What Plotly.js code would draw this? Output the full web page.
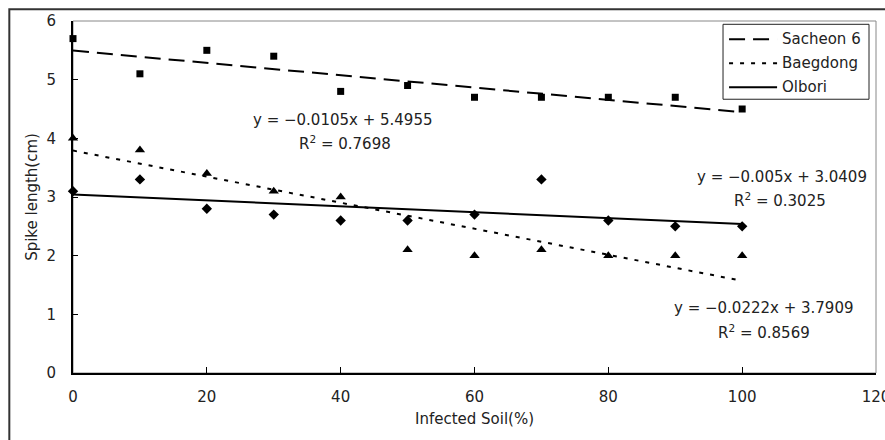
<!DOCTYPE html>
<html><head><meta charset="utf-8">
<script src="https://cdn.plot.ly/plotly-3.0.1.min.js"></script>
<style>html,body{margin:0;padding:0;background:#fff;}#chart{width:885px;height:440px;}</style>
</head><body><div id="chart"></div>
<script>
const xVals = [0, 10, 20, 30, 40, 50, 60, 70, 80, 90, 100];
const sacheon = [5.7, 5.1, 5.5, 5.4, 4.8, 4.9, 4.7, 4.7, 4.7, 4.7, 4.5];
const baegdong = [4.0, 3.8, 3.4, 3.1, 3.0, 2.1, 2.0, 2.1, 2.0, 2.0, 2.0];
const olbori = [3.1, 3.3, 2.8, 2.7, 2.6, 2.6, 2.7, 3.3, 2.6, 2.5, 2.5];
const seriesNames = ['Sacheon 6', 'Baegdong', 'Olbori'];
const slopes = [-0.0105, -0.0222, -0.005];
const intercepts = [5.4955, 3.7909, 3.0409];
const r2 = ['0.7698', '0.8569', '0.3025'];
const eqTexts = ['y = −0.0105x + 5.4955', 'y = −0.0222x + 3.7909', 'y = −0.005x + 3.0409'];
const xTicks = [0, 20, 40, 60, 80, 100, 120];
const yTicks = [0, 1, 2, 3, 4, 5, 6];

const FONT = 'DejaVu Sans, sans-serif';
const TXT = '#222';
const trendX = [0, 100];
const dashes = ['16px,8px', '4px,7px', 'solid'];
const symbols = ['square', 'triangle-up', 'diamond'];
const msizes = [7, 9, 8];
const data = [sacheon, baegdong, olbori];

const traces = [];
for (let i = 0; i < 3; i++) {
  traces.push({
    x: xVals, y: data[i], mode: 'markers', type: 'scatter', showlegend: false, cliponaxis: false,
    marker: {symbol: symbols[i], size: msizes[i], color: '#000'}, hoverinfo: 'skip'
  });
}
for (let i = 0; i < 3; i++) {
  traces.push({
    x: trendX, y: trendX.map(v => slopes[i] * v + intercepts[i]),
    mode: 'lines', type: 'scatter', name: seriesNames[i], showlegend: false,
    line: {color: '#000', width: 2, dash: dashes[i]}
  });
}

const pos = [
  [[40.4, 4.31], [40.7, 3.92]],
  [[103.3, 1.107], [103.3, 0.698]],
  [[105.97, 3.338], [105.68, 2.946]]
];
const annotations = [];
for (let i = 0; i < 3; i++) {
  annotations.push({x: pos[i][0][0], y: pos[i][0][1], xref: 'x', yref: 'y', text: eqTexts[i], showarrow: false, font: {family: FONT, size: 15, color: TXT}});
  annotations.push({x: pos[i][1][0], y: pos[i][1][1], xref: 'x', yref: 'y', text: 'R<sup>2</sup> = ' + r2[i], showarrow: false, font: {family: FONT, size: 15, color: TXT}});
}

// custom legend (paper coordinates)
const legY = [0.9481, 0.8800, 0.8118];
const shapes = [
  {type: 'rect', xref: 'paper', yref: 'paper', x0: 0, x1: 1, y0: 0, y1: 1, line: {color: '#888', width: 1}, layer: 'below'},
  {type: 'rect', xref: 'paper', yref: 'paper', x0: -0.0793, x1: 1.03, y0: -0.3, y1: 1.0332, line: {color: '#333', width: 2}, layer: 'below'},
  {type: 'rect', xref: 'paper', yref: 'paper', x0: 0.8095, x1: 0.9913, y0: 0.7777, y1: 0.9906, line: {color: '#222', width: 1}, fillcolor: '#fff', layer: 'above'}
];
for (let i = 0; i < 3; i++) {
  shapes.push({type: 'line', xref: 'paper', yref: 'paper', x0: 0.8170, x1: 0.8768, y0: legY[i], y1: legY[i], line: {color: '#000', width: 2, dash: dashes[i]}, layer: 'above'});
  annotations.push({x: 0.8805, y: legY[i], xref: 'paper', yref: 'paper', xanchor: 'left', yanchor: 'middle', text: seriesNames[i], showarrow: false, font: {family: FONT, size: 15, color: TXT}});
}

const layout = {
  width: 885, height: 440,
  margin: {l: 72.7, r: 9, t: 20.7, b: 67, pad: 0},
  paper_bgcolor: '#fff', plot_bgcolor: '#fff',
  font: {family: FONT, size: 15, color: TXT},
  xaxis: {
    range: [0, 120], tickvals: xTicks, ticktext: xTicks.map(String),
    showgrid: false, zeroline: false, showline: true, linecolor: '#000', linewidth: 2,
    ticks: 'inside', ticklen: 6, tickcolor: '#000', tickwidth: 1,
    ticklabelstandoff: 9, ticklabeloverflow: 'allow',
    title: {text: 'Infected Soil(%)', font: {family: FONT, size: 15, color: TXT}, standoff: 8},
    fixedrange: true
  },
  yaxis: {
    range: [0, 6], tickvals: yTicks, ticktext: yTicks.map(String),
    showgrid: false, zeroline: false, showline: true, linecolor: '#000', linewidth: 2,
    ticks: 'inside', ticklen: 5, tickcolor: '#000', tickwidth: 1,
    ticklabelstandoff: 12,
    title: {text: 'Spike length(cm)', font: {family: FONT, size: 15, color: TXT}, standoff: 5},
    fixedrange: true
  },
  shapes: shapes,
  annotations: annotations,
  showlegend: false
};
Plotly.newPlot('chart', traces, layout, {displayModeBar: false, staticPlot: true});
</script></body></html>
